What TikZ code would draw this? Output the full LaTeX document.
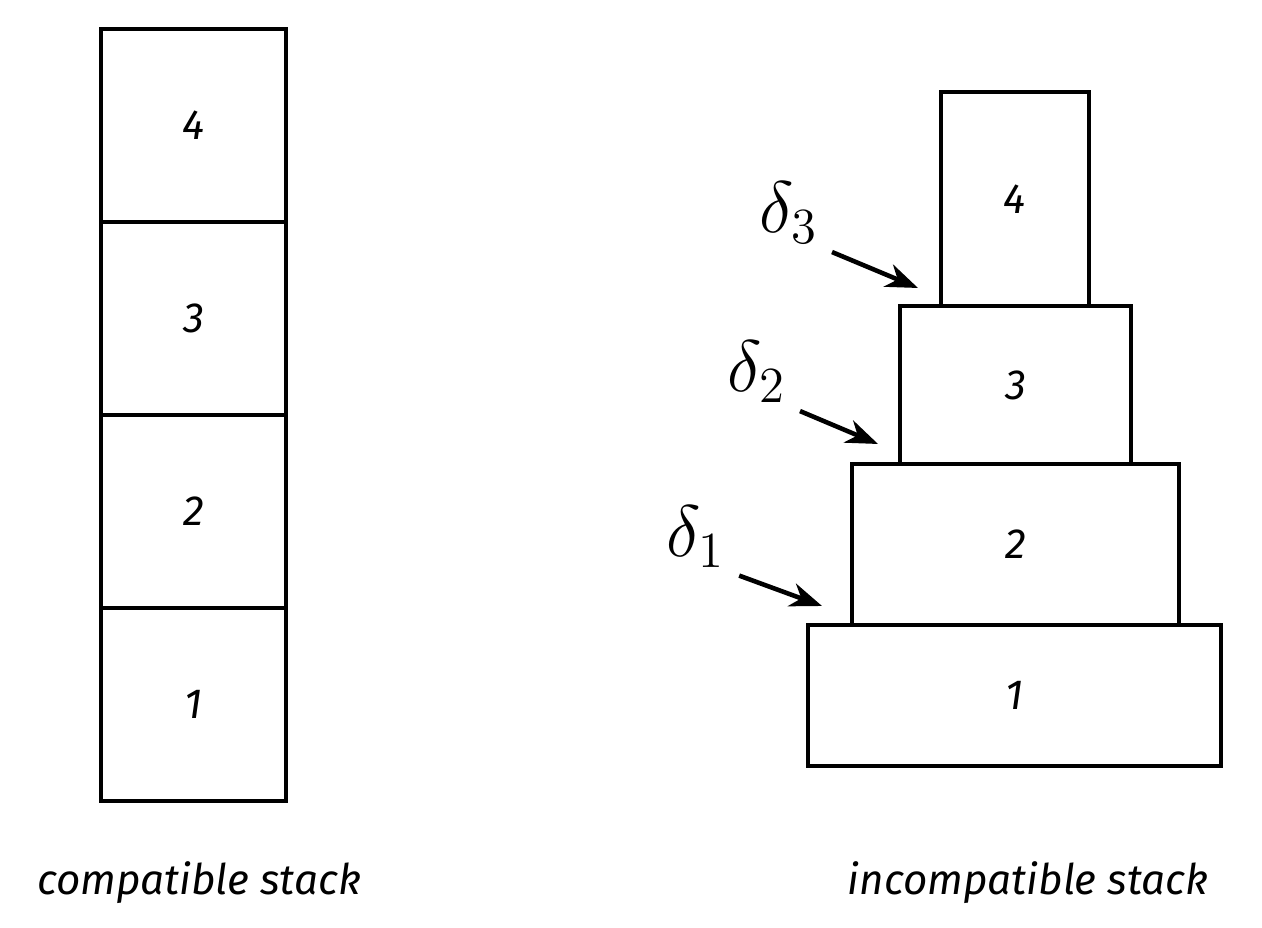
\documentclass[tikz,border=0pt]{standalone}
\usepackage{fontspec}
\setsansfont{Fira Sans}
\usepackage{tikz}
\usetikzlibrary{arrows.meta,calc}

\begin{document}
\begin{tikzpicture}[
    blk/.style ={rectangle, draw, line width=0.9pt, inner sep=0pt, outer sep=0pt,
                 font=\fontsize{12}{14}\sffamily\itshape},
    caption/.style ={font=\fontsize{12}{14}\sffamily\itshape},
    dlt/.style ={font=\huge, inner sep=1pt},
    arr/.style ={-{Stealth[length=3.2mm,width=2.4mm,inset=1mm]}, line width=1.3pt}
]
\useasboundingbox (0,0) rectangle (12.62,9.28);

% compatible stack
\node[blk, minimum width=1.85cm, minimum height=1.93cm] (c1) at (1.935,2.235) {1};
\node[blk, minimum width=1.85cm, minimum height=1.93cm] (c2) at (1.935,4.165) {2};
\node[blk, minimum width=1.85cm, minimum height=1.93cm] (c3) at (1.935,6.095) {3};
\node[blk, minimum width=1.85cm, minimum height=1.93cm] (c4) at (1.935,8.025) {4};

% incompatible stack
\node[blk, minimum width=4.13cm, minimum height=1.41cm] (b1) at (10.145,2.325) {1};
\node[blk, minimum width=3.27cm, minimum height=1.61cm] (b2) at (10.155,3.835) {2};
\node[blk, minimum width=2.31cm, minimum height=1.58cm] (b3) at (10.155,5.43) {3};
\node[blk, minimum width=1.48cm, minimum height=2.14cm] (b4) at (10.15,7.29) {4};

\node[dlt] (d1) at (6.96,3.91) {$\delta_1$};
\node[dlt] (d2) at (7.57,5.56) {$\delta_2$};
\node[dlt] (d3) at (7.89,7.15) {$\delta_3$};

\coordinate (t1) at ($(b2.south west)+(-0.30,0.19)$);
\coordinate (t2) at ($(b3.south west)+(-0.22,0.20)$);
\coordinate (t3) at ($(b4.south west)+(-0.23,0.18)$);

\draw[arr, shorten <=3pt] (d1.south east) -- (t1);
\draw[arr, shorten <=3pt] (d2.south east) -- (t2);
\draw[arr, shorten <=3pt] (d3.south east) -- (t3);

\node[caption] (lcap) at (1.99,0.45) {compatible stack};
\node[caption] (rcap) at (10.28,0.45) {incompatible stack};
\end{tikzpicture}
\end{document}
